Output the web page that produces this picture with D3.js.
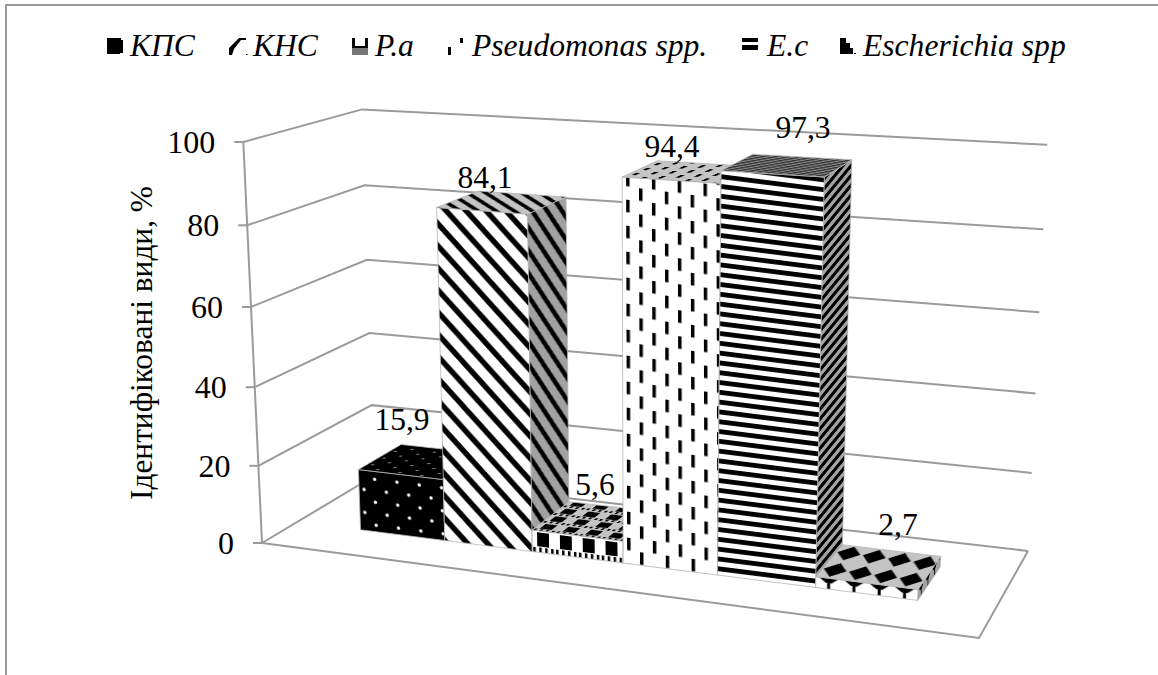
<!DOCTYPE html>
<html>
<head>
<meta charset="utf-8">
<script src="https://cdn.jsdelivr.net/npm/d3@7"></script>
<style>
  html, body { margin: 0; background: #fff; }
  svg { display: block; }
  text { font-family: "Liberation Serif", serif; fill: #000; }
</style>
</head>
<body>
<svg id="chart" width="1158" height="675"></svg>
<script>
// Identified species, share in percent
const categories = ["КПС", "КНС", "P.a", "Pseudomonas spp.", "E.c", "Escherichia spp"];
const values = [15.9, 84.1, 5.6, 94.4, 97.3, 2.7];
const tickValues = [0, 20, 40, 60, 80, 100];
const axisTitle = "Ідентифіковані види, %";

// Perspective box: floor corners on screen (front-left, front-right, back-right, back-left)
const floorQuad = [[262, 543], [979, 638], [1028, 551], [374, 476]];
// Homogeneous direction of the vertical axis, plus a small y drift per floor corner at full height
const verticalDir = [-30, -407.6, -0.0465];
const ceilDrift = [0, 16, 8, -3];

// Where the row of bars stands on the floor, in unit floor coordinates
const rowU = [0.103, 0.903];
const rowD = [0.295, 0.69];

const legendX = [130, 253, 375, 472, 767, 863];
const legendIconX = [107, 229, 352, 448, 742, 840];
const labelAnchors = [[402, 430], [485, 188], [595, 495], [672, 157], [803, 138], [898, 535]];

const svg = d3.select("#chart");
const defs = svg.append("defs");

// Unit square to quadrilateral homography coefficients
function quadCoeffs(q) {
  const [[x0, y0], [x1, y1], [x2, y2], [x3, y3]] = q;
  const dx1 = x1 - x2, dx2 = x3 - x2, sx = x0 - x1 + x2 - x3;
  const dy1 = y1 - y2, dy2 = y3 - y2, sy = y0 - y1 + y2 - y3;
  const det = dx1 * dy2 - dx2 * dy1;
  const g = (sx * dy2 - dx2 * sy) / det, h = (dx1 * sy - sx * dy1) / det;
  return { a: x1 - x0 + g * x1, b: x3 - x0 + h * x3, c: x0,
           d: y1 - y0 + g * y1, e: y3 - y0 + h * y3, f: y0, g, h };
}
const H = quadCoeffs(floorQuad);
const yScale = d3.scaleLinear().domain([0, 100]).range([0, 1]);
const uScale = d3.scaleBand().domain(categories).range(rowU).paddingInner(0).paddingOuter(0);

function project(u, d, value) {
  const z = yScale(value);
  const w = H.g * u + H.h * d + 1 + z * verticalDir[2];
  const x = (H.a * u + H.b * d + H.c + z * verticalDir[0]) / w;
  const y = (H.d * u + H.e * d + H.f + z * verticalDir[1]) / w;
  const drift = (1 - d) * ((1 - u) * ceilDrift[0] + u * ceilDrift[1]) + d * (u * ceilDrift[2] + (1 - u) * ceilDrift[3]);
  return [x, y + z * drift];
}

const line = d3.line();
const closed = d3.line().curve(d3.curveLinearClosed);

// Walls, floor and gridlines
const grey = "#9a9a9a";
const frame = svg.append("g").attr("fill", "none").attr("stroke", grey).attr("stroke-width", 2);
frame.append("path").attr("d", line([[6, 675], [6, 5], [1158, 5]]));
tickValues.forEach(v => {
  frame.append("path").attr("d", line([project(0, 0, v), project(0, 1, v), project(1, 1, v)]));
  const p = project(0, 0, v);
  frame.append("path").attr("d", line([[p[0] - 9, p[1]], p]));
});
frame.append("path").attr("d", line([project(0, 0, 0), project(0, 0, 100)]));
frame.append("path").attr("d", line([project(0, 0, 0), project(1, 0, 0), project(1, 1, 0)]));

// Axis tick labels and title
svg.append("g").selectAll("text").data(tickValues).join("text")
  .attr("x", v => project(0, 0, v)[0] - 28)
  .attr("y", v => project(0, 0, v)[1] + 11)
  .attr("text-anchor", "end").attr("font-size", 32)
  .text(d => d);
svg.append("text")
  .attr("transform", "translate(152,343) rotate(-90)")
  .attr("text-anchor", "middle").attr("font-size", 31.4)
  .text(axisTitle);

// Hatch tiles: each draws on the background colour of the face it fills
const tiles = {
  dots(p, bg) {
    p.size = [22.5, 23];
    p.rect(0, 0, 22.5, 23, "#000");
    const dot = bg === "#fff" ? "#fff" : "#8a8a8a";
    p.circle(5, 5, 1.7, dot); p.circle(16, 16.5, 1.7, dot);
  },
  diag(p, bg) {
    p.size = [22.7, 22.7];
    p.rect(0, 0, 22.7, 22.7, bg);
    p.path("M-6,-6L28.7,28.7M-28.7,-6L6,28.7M16.7,-6L51.4,28.7", "none", "#000", 5.8);
  },
  blocks(p, bg) {
    p.size = [23, 23];
    p.rect(0, 0, 23, 23, bg);
    p.rect(5, 3, 12, 14, "#000");
    [1, 7, 13, 19].forEach(x => p.rect(x, 18, 2.5, 5, "#000"));
  },
  dashes(p, bg) {
    p.size = [26, 26];
    p.rect(0, 0, 26, 26, bg);
    p.rect(4, 0, 3.5, 12.5, "#000"); p.rect(17, 13, 3.5, 12.5, "#000");
  },
  bands(p, bg) {
    p.size = [20, 9.8];
    p.rect(0, 0, 20, 9.8, bg);
    p.rect(0, 1, 20, 4.8, "#000");
  },
  fineBands(p) {
    p.size = [20, 7];
    p.rect(0, 0, 20, 7, "#8c8c8c");
    p.rect(0, 1, 20, 3.5, "#2a2a2a");
  },
  clubFront(p, bg) {
    p.size = [25.5, 25];
    p.rect(0, 0, 25.5, 25, bg);
    p.path("M3,14L13,9L23,14L16,19L14.5,19L14.5,25L11.5,25L11.5,19L10,19Z", "#000", "none", 0);
  },
  diamonds(p, bg) {
    p.size = [25.5, 44];
    p.rect(0, 0, 25.5, 44, bg);
    p.path("M1,22L12.5,4L24,22L12.5,40Z", "#000", "none", 0);
  }
};
const faceTiles = [
  { front: "dots", side: "dots", top: "dots" },
  { front: "diag", side: "diag", top: "diag" },
  { front: "blocks", side: "blocks", top: "blocks" },
  { front: "dashes", side: "dashes", top: "dashes" },
  { front: "bands", side: "bands", top: "fineBands" },
  { front: "clubFront", side: "clubFront", top: "diamonds" }
];
const faceShade = { front: "#fff", side: "#a2a2a2", top: "#c4c4c4" };

function makePattern(id, kind, bg, m) {
  const pat = defs.append("pattern").attr("id", id).attr("patternUnits", "userSpaceOnUse")
    .attr("patternTransform", `matrix(${m.join(" ")})`);
  const api = {
    size: [10, 10],
    rect(x, y, w, h, f) { pat.append("rect").attr("x", x).attr("y", y).attr("width", w).attr("height", h).attr("fill", f); },
    circle(x, y, r, f) { pat.append("circle").attr("cx", x).attr("cy", y).attr("r", r).attr("fill", f); },
    path(d, f, s, sw) { pat.append("path").attr("d", d).attr("fill", f).attr("stroke", s).attr("stroke-width", sw); }
  };
  tiles[kind](api, bg);
  pat.attr("width", api.size[0]).attr("height", api.size[1]);
  return `url(#${id})`;
}

function unit(a, b) {
  const dx = b[0] - a[0], dy = b[1] - a[1], l = Math.hypot(dx, dy);
  return [dx / l, dy / l];
}
const depthTileSpan = 85;

// Bars, left to right so that each one overlaps its neighbour on the left
categories.forEach((cat, i) => {
  const u0 = uScale(cat), u1 = u0 + uScale.bandwidth();
  const [d0, d1] = rowD;
  const v = values[i];
  const a = project(u0, d0, 0), b = project(u1, d0, 0);
  const at = project(u0, d0, v), bt = project(u1, d0, v);
  const c = project(u1, d1, 0), ct = project(u1, d1, v), dt = project(u0, d1, v);

  const ex = unit(a, b);
  const up = unit(at, a);
  const frontFill = makePattern(`front-${i}`, faceTiles[i].front, faceShade.front, [ex[0], ex[1], up[0], up[1], a[0], a[1]]);
  const depth = [(c[0] - b[0]) / depthTileSpan, (c[1] - b[1]) / depthTileSpan];
  const sideFill = makePattern(`side-${i}`, faceTiles[i].side, faceShade.side, [depth[0], depth[1], 0, 1, b[0], b[1]]);
  const topDepth = [(at[0] - dt[0]) / depthTileSpan, (at[1] - dt[1]) / depthTileSpan];
  const topFill = makePattern(`top-${i}`, faceTiles[i].top, faceShade.top, [ex[0], ex[1], topDepth[0], topDepth[1], at[0], at[1]]);

  const g = svg.append("g").attr("stroke", "#b5b5b5").attr("stroke-width", 0.8);
  g.append("path").attr("d", closed([a, b, bt, at])).attr("fill", frontFill);
  g.append("path").attr("d", closed([b, c, ct, bt])).attr("fill", sideFill);
  g.append("path").attr("d", closed([at, bt, ct, dt])).attr("fill", topFill);
});

// Value labels
svg.append("g").selectAll("text").data(values).join("text")
  .attr("x", (d, i) => labelAnchors[i][0])
  .attr("y", (d, i) => labelAnchors[i][1])
  .attr("text-anchor", "middle").attr("font-size", 31.5)
  .text(d => String(d).replace(".", ","));

// Legend
const legendGlyphs = [
  "M0,0H14V2H16V15H13V16H0Z",
  "M0,17V10L10,0H17V2H12L5,11L3,17ZM17,16H18.5V17H17Z",
  "M0,0H3V8H13V0H16V10H0Z",
  "M0,9H3V17H0ZM12,0H15V5H12Z",
  "M0,0H16V4H0ZM0,7H16V12H0Z",
  "M0,0H6V5H10V10H13V16H0ZM14,15H16V16H14Z"
];
const legendTop = 38;
categories.forEach((cat, i) => {
  svg.append("path").attr("transform", `translate(${legendIconX[i]},${legendTop})`)
    .attr("d", legendGlyphs[i]).attr("fill", "#000");
  if (i === 2) {
    svg.append("rect").attr("x", legendIconX[i]).attr("y", legendTop + 10)
      .attr("width", 16).attr("height", 7).attr("fill", "#777");
  }
  svg.append("text").attr("x", legendX[i]).attr("y", 56)
    .attr("font-style", "italic").attr("font-size", 31.6).text(cat);
});
</script>
</body>
</html>
